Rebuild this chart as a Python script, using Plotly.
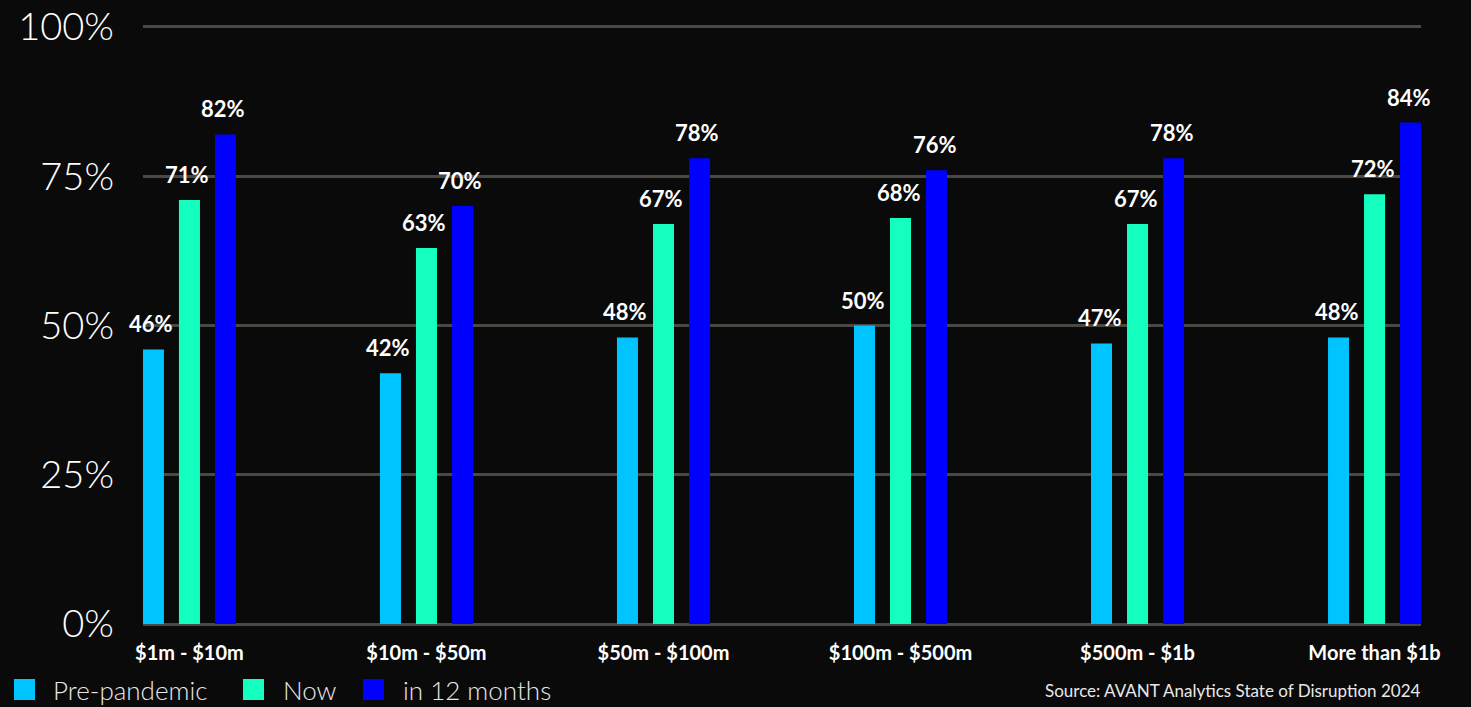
import plotly.graph_objects as go

categories = ["$1m - $10m", "$10m - $50m", "$50m - $100m", "$100m - $500m", "$500m - $1b", "More than $1b"]
pre_pandemic = [46, 42, 48, 50, 47, 48]
now = [71, 63, 67, 68, 67, 72]
in_12_months = [82, 70, 78, 76, 78, 84]
series_names = ["Pre-pandemic", "Now", "in 12 months"]
y_ticks = [0, 25, 50, 75, 100]
y_tick_labels = ["0%", "25%", "50%", "75%", "100%"]
source_text = "Source: AVANT Analytics State of Disruption 2024"

colors = ["#00c4ff", "#14ffbf", "#0000ff"]
series = [pre_pandemic, now, in_12_months]

W, H = 1471, 707
L, R, T, B = 143, 50, 24, 80
pw, ph = W - L - R, H - T - B


def px_x(x):
    return (x - L) / pw


def px_y(y):
    return (H - B - y) / ph


fig = go.Figure()
for name, vals, col in zip(series_names, series, colors):
    fig.add_trace(go.Bar(x=categories, y=vals, name=name, marker=dict(color=col, line=dict(width=0)),
                         showlegend=False, hoverinfo="skip"))

# value labels
bar_slot = 36
annotations = []
for i, vals in enumerate(series):
    for cat, v in zip(categories, vals):
        annotations.append(dict(x=cat, y=v, xref="x", yref="y", text=f"{v}%", showarrow=False,
                                xshift=(i - 1) * bar_slot - 2, yshift=10, yanchor="bottom",
                                font=dict(family="Lato", size=22, color="white", weight="bold")))
annotations.append(dict(x=px_x(1422), y=px_y(690), xref="paper", yref="paper", text=source_text,
                        showarrow=False, xanchor="right", yanchor="middle",
                        font=dict(family="Lato", size=17, color="#e8e8e8")))

# legend (drawn manually for exact spacing)
legend_square_x = [14, 243, 363]
legend_text_x = [51, 281, 401]
shapes = []
for name, col, sx, tx in zip(series_names, colors, legend_square_x, legend_text_x):
    shapes.append(dict(type="rect", xref="paper", yref="paper", x0=px_x(sx), x1=px_x(sx + 21),
                       y0=px_y(700), y1=px_y(679), fillcolor=col, line=dict(width=0), layer="above"))
    annotations.append(dict(x=px_x(tx), y=px_y(690), xref="paper", yref="paper", text=name,
                            showarrow=False, xanchor="left", yanchor="middle",
                            font=dict(family="Lato", size=26, color="#e8e8e8", weight=300)))

fig.update_layout(
    width=W, height=H,
    margin=dict(l=L, r=R, t=T, b=B, pad=0, autoexpand=False),
    paper_bgcolor="#0a0a0a", plot_bgcolor="rgba(0,0,0,0)",
    barmode="group", bargap=0.544, bargroupgap=0.417,
    annotations=annotations, shapes=shapes,
    showlegend=False,
    xaxis=dict(range=[-0.196, 5.196], showgrid=False, zeroline=False, showline=False, ticks="",
               tickfont=dict(family="Lato", size=20, color="white", weight="bold"), ticklabelstandoff=12,
               automargin=False, fixedrange=True),
    yaxis=dict(range=[-0.5, 100.5], tickvals=y_ticks, ticktext=y_tick_labels, showgrid=True,
               gridcolor="#4a4842", gridwidth=3, zeroline=False, showline=False, ticks="",
               tickfont=dict(family="Lato", size=38, color="white", weight=300), ticklabelstandoff=28,
               automargin=False, fixedrange=True),
)

fig.write_html("out.html", config={"displayModeBar": False},
               post_script="document.body.style.margin='0';")
